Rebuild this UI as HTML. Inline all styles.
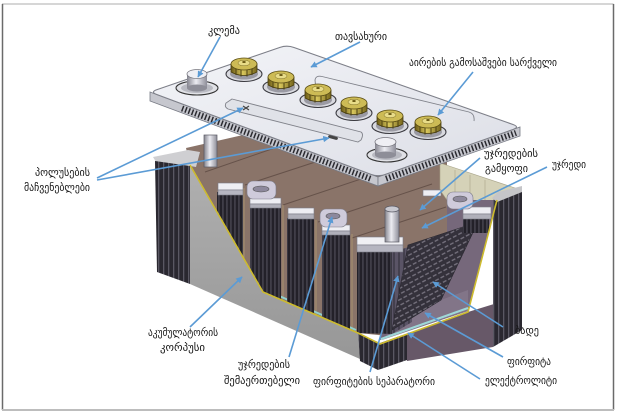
<!DOCTYPE html>
<html><head><meta charset="utf-8"><style>
html,body{margin:0;padding:0;background:#fff;}
svg{display:block;}
text{font-family:"DejaVu Sans","Liberation Sans",sans-serif;font-size:11px;fill:#151515;}
</style></head><body>
<svg width="620" height="417" viewBox="0 0 620 417" xmlns="http://www.w3.org/2000/svg">
<defs>
 <pattern id="rib" width="5" height="20" patternUnits="userSpaceOnUse">
   <rect width="5" height="20" fill="#2a2830"/>
   <rect x="3" width="1.3" height="20" fill="#5a5863"/>
 </pattern>
 <pattern id="pl" width="4" height="20" patternUnits="userSpaceOnUse">
   <rect width="4" height="20" fill="#232129"/>
   <rect x="2.5" width="0.9" height="20" fill="#5d5b68"/>
 </pattern>
 <pattern id="sep" width="5" height="20" patternUnits="userSpaceOnUse">
   <rect width="5" height="20" fill="#5a5466"/>
   <rect x="3.5" width="1" height="20" fill="#2e2b35"/>
 </pattern>
 <pattern id="grid" width="6" height="5" patternUnits="userSpaceOnUse" patternTransform="rotate(-28)">
   <rect width="6" height="5" fill="#34313b"/>
   <rect x="0.5" y="1.6" width="4" height="1.3" fill="#77737f"/>
 </pattern>
 <linearGradient id="lidg" x1="0" y1="0" x2="1" y2="1">
   <stop offset="0" stop-color="#f3f4f8"/><stop offset="1" stop-color="#dcdee6"/>
 </linearGradient>
 <linearGradient id="cyl" x1="0" y1="0" x2="1" y2="0">
   <stop offset="0" stop-color="#85858f"/><stop offset="0.45" stop-color="#ececf2"/><stop offset="1" stop-color="#8e8e99"/>
 </linearGradient>
 <linearGradient id="gold" x1="0" y1="0" x2="1" y2="0">
   <stop offset="0" stop-color="#6a5a14"/><stop offset="0.45" stop-color="#d9c75c"/><stop offset="1" stop-color="#75651b"/>
 </linearGradient>
 <linearGradient id="grayf" x1="0" y1="0" x2="0" y2="1">
   <stop offset="0" stop-color="#b0b0b0"/><stop offset="1" stop-color="#979797"/>
 </linearGradient>
 <marker id="ah" viewBox="0 0 10 10" refX="9" refY="5" markerWidth="4" markerHeight="4" orient="auto"><path d="M0,0 L10,5 L0,10 z" fill="#5b9bd5"/></marker>
 <g id="cap">
   <ellipse cx="0" cy="7" rx="18" ry="7.5" fill="#d8d9df" stroke="#3a3a40" stroke-width="1.1"/>
   <ellipse cx="0" cy="7" rx="14" ry="5.5" fill="#9a9aa3"/>
   <path d="M-13,-3 L-13,5 Q0,12 13,5 L13,-3 Z" fill="url(#gold)" stroke="#4a3f10" stroke-width="0.8"/>
   <path d="M-8,-1 V8 M-3,0 V9.5 M3,0 V9.5 M8,-1 V8" stroke="#4a3f10" stroke-width="1"/>
   <ellipse cx="0" cy="-3" rx="13" ry="6" fill="#cdbb55" stroke="#5a4d15" stroke-width="0.8"/>
   <ellipse cx="0" cy="-4" rx="6" ry="2.8" fill="#e8dc88" stroke="#7a6a20" stroke-width="0.5"/>
   <ellipse cx="0" cy="-5" rx="1.8" ry="1" fill="#6a5a14"/>
 </g>
</defs>

<rect width="620" height="417" fill="#fff"/>
<!-- frame -->
<line x1="2" y1="4" x2="613.5" y2="4" stroke="#c8c8c8" stroke-width="1.5"/>
<line x1="2.5" y1="4" x2="2.5" y2="410" stroke="#6a6a6a" stroke-width="1.5"/>
<line x1="613.5" y1="4" x2="613.5" y2="410" stroke="#6a6a6a" stroke-width="1.5"/>
<line x1="2" y1="410" x2="614" y2="410" stroke="#bdbdbd" stroke-width="2"/>

<!-- brown back -->
<polygon points="186,148 300,122 447,150 447,235 400,250 388,336 358,333 263,292 190,165" fill="#8a7469"/>
<g stroke="#66524a" stroke-width="1">
 <line x1="205" y1="172" x2="292" y2="142"/>
 <line x1="245" y1="185" x2="352" y2="150"/>
 <line x1="283" y1="205" x2="400" y2="166"/>
 <line x1="318" y1="222" x2="432" y2="184"/>
 <line x1="352" y1="238" x2="446" y2="207"/>
</g>
<!-- beige right top -->
<polygon points="440,163 515,188 497,202 447,200 440,190" fill="#d5d2b8" stroke="#a9a58a" stroke-width="0.6"/>
<g stroke="#b3af93" stroke-width="0.8"><line x1="455" y1="170" x2="455" y2="200"/><line x1="470" y1="175" x2="470" y2="200"/><line x1="485" y1="180" x2="485" y2="200"/></g>
<!-- mauve inner right wall -->
<polygon points="447,200 497,200 468,311 380,340 384,255 447,235" fill="#76687b"/>
<polygon points="441,300 468,290 468,311 382,340 392,330" fill="#827588"/>

<!-- divider edges -->
<g stroke="#b09a72" stroke-width="0.8">
 <line x1="244" y1="188" x2="244" y2="300"/><line x1="283" y1="205" x2="283" y2="303"/>
 <line x1="316" y1="220" x2="316" y2="316"/><line x1="352" y1="234" x2="352" y2="332"/>
</g>
<line x1="268" y1="291" x2="356" y2="330" stroke="#8fd0cf" stroke-width="2"/>

<!-- plate groups -->
<rect x="217" y="192" width="26" height="98" fill="url(#pl)"/>
<polygon points="250,203 281,203 281,300 250,300" fill="url(#pl)"/>
<polygon points="287,218 314,218 314,314 287,311" fill="url(#pl)"/>
<polygon points="322,230 350,230 350,329 322,317" fill="url(#pl)"/>
<polygon points="357,248 392,248 392,334 357,333" fill="url(#pl)"/>
<polygon points="392,252 412,246 412,322 392,334" fill="url(#sep)"/>
<!-- grid -->
<polygon points="408,245 478,222 441,300 392,330" fill="url(#grid)" stroke="#2a2830" stroke-width="0.6"/>
<rect x="463" y="219" width="26" height="14" fill="url(#pl)"/>

<!-- straps -->
<g stroke="#7b7b86" stroke-width="0.6">
 <rect x="218" y="183" width="25" height="7" fill="#eeeef3"/><rect x="218" y="190" width="25" height="5" fill="#b6b6c1"/>
 <rect x="250" y="198" width="31" height="6" fill="#eeeef3"/><rect x="250" y="204" width="31" height="4" fill="#b0b0ba"/>
 <rect x="247" y="181" width="29" height="18" rx="6" fill="#cfcbdb"/>
 <rect x="288" y="208" width="26" height="6" fill="#eeeef3"/><rect x="288" y="214" width="26" height="5" fill="#b0b0ba"/>
 <rect x="322" y="225" width="28" height="6" fill="#eeeef3"/><rect x="322" y="231" width="28" height="4" fill="#b0b0ba"/>
 <rect x="320" y="209" width="27" height="18" rx="6" fill="#cfcbdb"/>
 <rect x="357" y="237" width="46" height="8" fill="#f0f0f4"/><rect x="357" y="245" width="46" height="7" fill="#b5b5c0"/>
 <rect x="423" y="190" width="18" height="6" fill="#eeeef3"/>
 <rect x="463" y="207" width="28" height="7" fill="#eeeef3"/><rect x="463" y="214" width="28" height="5" fill="#b0b0ba"/>
 <rect x="447" y="192" width="26" height="17" rx="6" fill="#cfcbdb"/>
</g>
<ellipse cx="261" cy="189" rx="8" ry="3" fill="#8d889c" stroke="#555" stroke-width="0.6"/>
<ellipse cx="333" cy="216" rx="7" ry="3" fill="#8d889c" stroke="#555" stroke-width="0.6"/>
<ellipse cx="460" cy="199" rx="7" ry="3" fill="#8d889c" stroke="#555" stroke-width="0.6"/>
<!-- front post -->
<rect x="385" y="209" width="14" height="33" fill="url(#cyl)" stroke="#5a5a64" stroke-width="0.7"/>
<ellipse cx="392" cy="209" rx="7" ry="3" fill="#c8c8d0" stroke="#5a5a64" stroke-width="0.7"/>

<!-- left body top band -->
<polygon points="153,157 188,150 200,152 196,167 190,166 156,162" fill="#cfcfd2"/>
<!-- back-left post -->
<rect x="204" y="135" width="13" height="32" fill="url(#cyl)" stroke="#5a5a64" stroke-width="0.7"/>
<!-- gray cut face -->
<polygon points="190,165 263,292 358,333 360,359 190,284" fill="url(#grayf)"/>
<!-- left ribs -->
<polygon points="155,161 190,166 190,284 157,272" fill="url(#rib)"/>
<!-- front corner ribs -->
<polygon points="358,333 380,343 407,333.5 407,360 378,370 360,361" fill="url(#rib)"/>
<!-- right bottom face -->
<polygon points="407,333.5 468,312 494,304 493,347 407,361" fill="#675868"/>
<!-- right ribs -->
<polygon points="493,200 522,188 522,330 493,347" fill="url(#rib)"/>
<polygon points="492,198 498,192 522,186 522,192 497,202" fill="#c5c5c8"/>
<!-- yellow & cyan lines -->
<polyline points="190,165 263,292 358,333 380,344 468,312 497,200" fill="none" stroke="#cdbb2e" stroke-width="1.6"/>
<line x1="381" y1="339" x2="468" y2="308" stroke="#9fd8d8" stroke-width="2.2"/>

<!-- LID -->
<polygon points="150,92 378,177 378,186 150,101" fill="#c6c7ce" stroke="#777a84" stroke-width="0.8"/>
<polygon points="378,177 520,127 520,136 378,186" fill="#c6c7ce" stroke="#777a84" stroke-width="0.8"/>
<line x1="182" y1="108.4" x2="372" y2="179.3" stroke="#2a2a30" stroke-width="6" stroke-dasharray="1.5 2"/>
<line x1="386" y1="178.7" x2="516" y2="132.9" stroke="#2a2a30" stroke-width="6" stroke-dasharray="1.5 2"/>
<path d="M157,89.6 L280,47.4 Q287,45 294,47.5 L513,124.5 Q520,127 513,129.5 L385,174.5 Q378,177 371,174.4 L156.8,94.5 Q150,92 157,89.6 Z" fill="url(#lidg)" stroke="#7d7f88" stroke-width="1.1"/>
<!-- panels -->
<path d="M232,99 L361,132 Q364,134 361,140 L358,142 L228,109 Q224,107 226,103 Z" fill="#e0e2e8" stroke="#80828a" stroke-width="0.9"/>
<path d="M243,106 l3,2 l3,-2 M243,110 l3,-2 l3,2" stroke="#444" stroke-width="1.2" fill="none"/>
<rect x="328" y="136" width="10" height="3" rx="1.5" fill="#444" transform="rotate(15 333 137.5)"/>
<path d="M316,90 L315,80 Q316,75 322,76.5 L469,112 Q475,114 474,121" fill="none" stroke="#80828a" stroke-width="0.9"/>
<!-- caps -->
<use href="#cap" x="244" y="67"/>
<use href="#cap" x="281" y="80"/>
<use href="#cap" x="318" y="93"/>
<use href="#cap" x="354" y="106"/>
<use href="#cap" x="390" y="119"/>
<use href="#cap" x="428" y="125"/>
<!-- left terminal -->
<ellipse cx="197" cy="88" rx="21" ry="7" fill="#e0e1e6" stroke="#333" stroke-width="1.1"/>
<ellipse cx="197" cy="88" rx="16" ry="5" fill="#b9bac2"/>
<rect x="187" y="74" width="20" height="14" fill="url(#cyl)"/>
<ellipse cx="197" cy="88" rx="10" ry="3.5" fill="#8e8e98"/>
<ellipse cx="197" cy="74" rx="10" ry="4.5" fill="#efeff4" stroke="#77777f" stroke-width="0.8"/>
<!-- right terminal -->
<ellipse cx="387" cy="155" rx="20" ry="7" fill="#e0e1e6" stroke="#333" stroke-width="1.1"/>
<ellipse cx="387" cy="155" rx="15" ry="5" fill="#b9bac2"/>
<rect x="375" y="142" width="21" height="13" fill="url(#cyl)"/>
<ellipse cx="385.5" cy="155" rx="10.5" ry="3.5" fill="#8e8e98"/>
<ellipse cx="385.5" cy="142" rx="10.5" ry="4.5" fill="#efeff4" stroke="#77777f" stroke-width="0.8"/>

<!-- arrows -->
<g stroke="#5b9bd5" stroke-width="1.6" marker-end="url(#ah)" fill="none">
 <line x1="220" y1="37" x2="198" y2="77"/>
 <line x1="360" y1="42" x2="311" y2="67"/>
 <line x1="473" y1="72" x2="438" y2="115"/>
 <line x1="97" y1="178" x2="243" y2="108"/>
 <line x1="97" y1="180" x2="329" y2="138"/>
 <line x1="480" y1="158" x2="420" y2="210"/>
 <line x1="547" y1="167" x2="422" y2="228"/>
 <line x1="190" y1="327" x2="242" y2="277"/>
 <line x1="289" y1="357" x2="332" y2="217"/>
 <line x1="370" y1="372" x2="398" y2="276"/>
 <line x1="503" y1="327" x2="433" y2="282"/>
 <line x1="503" y1="357" x2="425" y2="313"/>
 <line x1="480" y1="379" x2="408" y2="333"/>
</g>

<!-- labels -->
<text x="208" y="34" textLength="32" lengthAdjust="spacingAndGlyphs">კლემა</text>
<text x="335" y="40" textLength="52" lengthAdjust="spacingAndGlyphs">თავსახური</text>
<text x="409" y="66" textLength="148" lengthAdjust="spacingAndGlyphs">აირების გამოსაშვები სარქველი</text>
<text x="35" y="176" textLength="55" lengthAdjust="spacingAndGlyphs">პოლუსების</text>
<text x="24" y="191" textLength="66" lengthAdjust="spacingAndGlyphs">მაჩვენებლები</text>
<text x="484" y="157" textLength="54" lengthAdjust="spacingAndGlyphs">უჯრედების</text>
<text x="485" y="172" textLength="43" lengthAdjust="spacingAndGlyphs">გამყოფი</text>
<text x="552" y="168" textLength="34" lengthAdjust="spacingAndGlyphs">უჯრედი</text>
<text x="148" y="336" textLength="70" lengthAdjust="spacingAndGlyphs">აკუმულატორის</text>
<text x="160" y="351" textLength="45" lengthAdjust="spacingAndGlyphs">კორპუსი</text>
<text x="238" y="368" textLength="52" lengthAdjust="spacingAndGlyphs">უჯრედების</text>
<text x="224" y="384" textLength="76" lengthAdjust="spacingAndGlyphs">შემაერთებელი</text>
<text x="313" y="385" textLength="122" lengthAdjust="spacingAndGlyphs">ფირფიტების სეპარატორი</text>
<text x="515" y="334" textLength="24" lengthAdjust="spacingAndGlyphs">ბადე</text>
<text x="507" y="365" textLength="44" lengthAdjust="spacingAndGlyphs">ფირფიტა</text>
<text x="485" y="384" textLength="72" lengthAdjust="spacingAndGlyphs">ელექტროლიტი</text>
</svg>
</body></html>
